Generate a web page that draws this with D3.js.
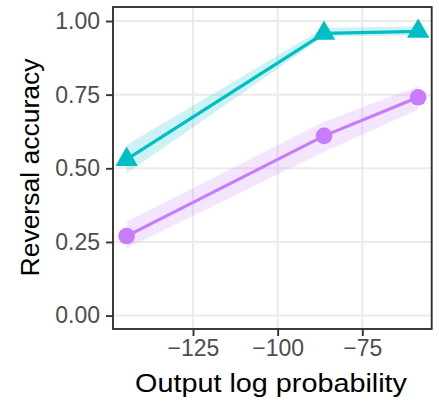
<!DOCTYPE html>
<html>
<head>
<meta charset="utf-8">
<script src="https://cdn.jsdelivr.net/npm/d3@7"></script>
<style>
  html, body { margin: 0; padding: 0; background: #fff; }
  svg { display: block; font-family: "Liberation Sans", Arial, sans-serif; }
</style>
</head>
<body>
<svg id="chart" width="439" height="402"></svg>
<script>
// ---- data ----
const logProb = [-144.6, -86.3, -58.5];
const tealMean = [0.53, 0.958, 0.965];
const tealLow  = [0.483, 0.947, 0.951];
const tealHigh = [0.579, 0.976, 0.982];
const purpleMean = [0.27, 0.61, 0.741];
const purpleLow  = [0.229, 0.556, 0.70];
const purpleHigh = [0.319, 0.658, 0.779];
const xTicks = [-125, -100, -75];
const yTicks = [0, 0.25, 0.5, 0.75, 1];
const xTitle = "Output log probability";
const yTitle = "Reversal accuracy";

const series = [
  { name: "teal", color: "#00BFC4", mean: tealMean, low: tealLow, high: tealHigh, shape: d3.symbolTriangle },
  { name: "purple", color: "#C77CFF", mean: purpleMean, low: purpleLow, high: purpleHigh, shape: d3.symbolCircle }
];

// ---- layout ----
const panel = { left: 113, right: 431.7, top: 7, bottom: 329 };
const x = d3.scaleLinear().domain([-125, -75]).range([193, 362.3]);
const y = d3.scaleLinear().domain([0, 1]).range([315.6, 21]);

const svg = d3.select("#chart");

// grid
const grid = svg.append("g");
grid.selectAll(".gx").data(xTicks).join("line")
  .attr("x1", d => x(d)).attr("x2", d => x(d))
  .attr("y1", panel.top).attr("y2", panel.bottom)
  .attr("stroke", "#EBEBEB").attr("stroke-width", 2);
grid.selectAll(".gy").data(yTicks).join("line")
  .attr("x1", panel.left).attr("x2", panel.right)
  .attr("y1", d => y(d)).attr("y2", d => y(d))
  .attr("stroke", "#EBEBEB").attr("stroke-width", 2);

// ribbons
const area = d3.area()
  .x(d => x(d.x)).y0(d => y(d.lo)).y1(d => y(d.hi));
series.forEach(s => {
  const pts = logProb.map((v, i) => ({ x: v, lo: s.low[i], hi: s.high[i] }));
  svg.append("path").datum(pts)
    .attr("d", area)
    .attr("fill", s.color).attr("fill-opacity", 0.2);
});

// lines
const line = d3.line().x(d => x(d.x)).y(d => y(d.y));
series.forEach(s => {
  const pts = logProb.map((v, i) => ({ x: v, y: s.mean[i] }));
  svg.append("path").datum(pts)
    .attr("d", line)
    .attr("fill", "none").attr("stroke", s.color).attr("stroke-width", 3.2);
});

// points
series.forEach(s => {
  const pts = logProb.map((v, i) => ({ x: v, y: s.mean[i] }));
  svg.append("g").selectAll("path").data(pts).join("path")
    .attr("d", d3.symbol(s.shape, 217))
    .attr("transform", d => `translate(${x(d.x)},${y(d.y)})`)
    .attr("fill", s.color);
});

// panel border
svg.append("rect")
  .attr("x", panel.left).attr("y", panel.top)
  .attr("width", panel.right - panel.left).attr("height", panel.bottom - panel.top)
  .attr("fill", "none").attr("stroke", "#333333").attr("stroke-width", 1.9);

// axes
const xAxis = d3.axisBottom(x).tickValues(xTicks).tickSize(7).tickPadding(4)
  .tickFormat(d => d3.format("d")(d).replace("-", "\u2212"));
const gx = svg.append("g").attr("transform", `translate(0,${panel.bottom})`).call(xAxis);
gx.select(".domain").remove();
gx.selectAll(".tick line").attr("stroke", "#333333").attr("stroke-width", 1.9);
gx.selectAll(".tick text").attr("fill", "#4D4D4D").attr("font-size", 23)
  .attr("font-family", "Liberation Sans, Arial, sans-serif");

const yAxis = d3.axisLeft(y).tickValues(yTicks).tickSize(7).tickPadding(6)
  .tickFormat(d3.format(".2f"));
const gy = svg.append("g").attr("transform", `translate(${panel.left},0)`).call(yAxis);
gy.select(".domain").remove();
gy.selectAll(".tick line").attr("stroke", "#333333").attr("stroke-width", 1.9);
gy.selectAll(".tick text").attr("fill", "#4D4D4D").attr("font-size", 23)
  .attr("font-family", "Liberation Sans, Arial, sans-serif");

// titles
svg.append("text")
  .attr("x", 271).attr("y", 391.5)
  .attr("text-anchor", "middle")
  .attr("font-size", 25).attr("fill", "#000")
  .attr("textLength", 272).attr("lengthAdjust", "spacingAndGlyphs")
  .text(xTitle);
svg.append("text")
  .attr("transform", "translate(38.5,167.5) rotate(-90)")
  .attr("text-anchor", "middle")
  .attr("font-size", 25).attr("fill", "#000")
  .attr("textLength", 218).attr("lengthAdjust", "spacingAndGlyphs")
  .text(yTitle);
</script>
</body>
</html>
